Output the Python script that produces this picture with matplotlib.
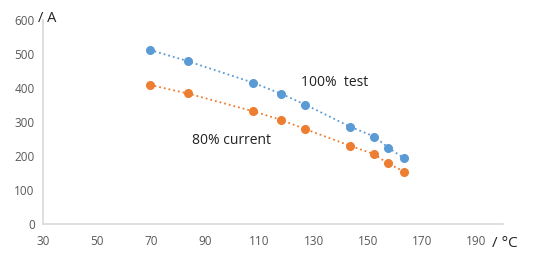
import matplotlib
matplotlib.use("Agg")
import matplotlib.pyplot as plt

plt.rcParams['font.family'] = ['Open Sans', 'DejaVu Sans']

# temperature (°C) and current (A)
temps = [69.5, 83.5, 107.5, 118, 127, 143.5, 152.5, 157.5, 163.5]
test_100 = [512, 479, 416, 383, 351, 286, 257, 225, 193]
current_80 = [409, 384, 332, 306, 279, 230, 205, 178, 154]
x_ticks = [30, 50, 70, 90, 110, 130, 150, 170, 190]
y_ticks = [0, 100, 200, 300, 400, 500, 600]

blue = '#5B9BD5'
orange = '#ED7D31'

fig = plt.figure(figsize=(5.47, 2.6), dpi=100)
ax = fig.add_axes([0.0786, 0.1385, 0.841, 0.7845])

ax.plot(temps, test_100, ':', color=blue, lw=1.3, marker='o', ms=5.5, clip_on=False)
ax.plot(temps, current_80, ':', color=orange, lw=1.3, marker='o', ms=5.5, clip_on=False)

ax.set_xlim(30, 200)
ax.set_ylim(0, 600)
ax.set_xticks(x_ticks)
ax.set_yticks(y_ticks)
ax.tick_params(length=0, labelsize=8.5, colors='#595959', pad=6)
ax.tick_params(axis='x', pad=8)

for s in ['top', 'right']:
    ax.spines[s].set_visible(False)
for s in ['left', 'bottom']:
    ax.spines[s].set_color('#D9D9D9')
    ax.spines[s].set_linewidth(1.2)

ax.text(125.5, 415, '100%  test', fontsize=10, color='#222222', va='center')
ax.text(85, 247, '80% current', fontsize=10, color='#222222', va='center')

fig.text(0.069, 0.927, '/ A', fontsize=10.5, color='#222222', va='center')
fig.text(0.900, 0.065, '/ °C', fontsize=11, color='#222222', va='center')

fig.savefig('out.png', dpi=100)
